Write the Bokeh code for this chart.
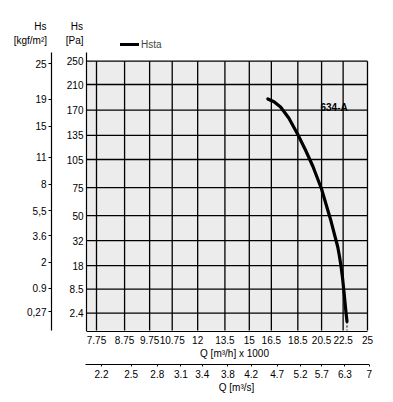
import numpy as np
from bokeh.plotting import figure
from bokeh.models import (Range1d, LinearAxis, LogAxis, LogScale, FixedTicker,
                          Label, Legend, LegendItem)
from bokeh.embed import file_html
from bokeh.resources import INLINE

# ---------------- data ----------------
q_ticks = [7.75, 8.75, 9.75, 10.75, 12, 13.5, 15, 16.5, 18.5, 20.5, 22.5, 25]
q_labels = ["7.75", "8.75", "9.75", "10.75", "12", "13.5", "15", "16.5",
            "18.5", "20.5", "22.5", "25"]
qs_ticks = [2.2, 2.5, 2.8, 3.1, 3.4, 3.8, 4.2, 4.7, 5.2, 5.7, 6.3, 7]
qs_labels = ["2.2", "2.5", "2.8", "3.1", "3.4", "3.8", "4.2", "4.7", "5.2",
             "5.7", "6.3", "7"]
pa_ticks = [2.4, 8.5, 18, 32, 50, 75, 105, 135, 170, 210, 250]
pa_labels = ["2.4", "8.5", "18", "32", "50", "75", "105", "135", "170", "210", "250"]
kgf_ticks = [0.27, 0.9, 2, 3.6, 5.5, 8, 11, 15, 19, 25]
kgf_labels = ["0,27", "0.9", "2", "3.6", "5,5", "8", "11", "15", "19", "25"]

curve_q = [16.25, 16.69, 17.17, 17.79, 18.5, 19.12, 19.75, 20.49, 21.31,
           21.99, 22.15, 22.30, 22.44, 22.59, 22.76, 22.88]
curve_pa = [187, 182.6, 174.8, 158.7, 136, 116.3, 97.1, 73.8, 47,
            27.9, 22.6, 17.6, 12.7, 7.4, 2.9, 1.16]
series_name = "Hsta"
curve_name = "634-A"

PA_PER_KGF = 9.80665
M3H_PER_M3S = 3.6  # (m3/h x 1000) per m3/s

FONT = "Liberation Sans"
FS = "10px"

W, H = 390, 398

# y axis is a square-root scale of pressure
def ys(v):
    return [float(np.sqrt(x)) for x in v]

# layout helpers: canvas pixel -> data coordinate (log x, sqrt y)
KX = (367 - 96) / np.log(q_ticks[-1] / q_ticks[0])
KY = (312.7 - 60.7) / (np.sqrt(pa_ticks[-1]) - np.sqrt(pa_ticks[0]))

def X(px):
    return float(q_ticks[0] * np.exp((px - 96) / KX))

def Y(py):
    return float(np.sqrt(pa_ticks[-1]) - (py - 60.7) / KY)

p = figure(width=W, height=H, x_axis_type="log", title=None,
           x_range=Range1d(X(0), X(W)), y_range=Range1d(Y(H), Y(0)),
           output_backend="svg", toolbar_location=None,
           min_border_left=0, min_border_right=0,
           min_border_top=0, min_border_bottom=0)
p.outline_line_color = None
p.background_fill_color = "white"
p.border_fill_color = "white"
p.xgrid.visible = False
p.ygrid.visible = False

top = ys([pa_ticks[-1]])[0]
right = q_ticks[-1]
left = X(86)
bottom = Y(330)

# grey plot area
p.quad(left=[left], right=[right], bottom=[bottom], top=[top],
       fill_color="#ebeceb", line_color=None)

# grid
p.segment(x0=q_ticks, y0=[bottom] * len(q_ticks), x1=q_ticks, y1=[top] * len(q_ticks),
          line_color="black", line_width=1.3)
p.segment(x0=[left] * len(pa_ticks), y0=ys(pa_ticks), x1=[right] * len(pa_ticks),
          y1=ys(pa_ticks), line_color="black", line_width=1.3)

# axis lines
p.segment(x0=[left, X(51), left, X(85)], y0=[Y(330.5), Y(330), Y(331), Y(364)],
          x1=[left, X(51), right, X(368.5)], y1=[Y(52), Y(52), Y(331), Y(364)],
          line_color="black", line_width=1.2)

# curve
r = p.line(curve_q, ys(curve_pa), line_color="black", line_width=3.2,
           line_cap="round", line_join="round")
p.segment(x0=[curve_q[-1]], y0=[ys([curve_pa[-1]])[0]], x1=[curve_q[-1]], y1=[bottom],
          line_color="black", line_width=1, line_dash="2 2")

def style_axis(ax):
    ax.major_label_text_font = FONT
    ax.major_label_text_font_size = FS
    ax.major_label_text_color = "black"
    ax.axis_line_color = None
    ax.major_tick_line_color = "black"
    ax.major_tick_line_width = 1
    ax.minor_tick_line_color = None
    ax.minor_tick_in = 0
    ax.minor_tick_out = 0
    ax.major_tick_in = 0

# primary x axis : Q [m3/h] x 1000
xa = p.xaxis[0]
style_axis(xa)
xa.fixed_location = Y(331)
xa.ticker = FixedTicker(ticks=q_ticks)
xa.major_label_overrides = {float(t): l for t, l in zip(q_ticks, q_labels)}
xa.major_tick_out = 0
xa.major_label_standoff = 4

# secondary x axis : Q [m3/s]
p.extra_x_ranges = {"qs": Range1d(X(0) / M3H_PER_M3S, X(W) / M3H_PER_M3S)}
p.extra_x_scales = {"qs": LogScale()}
qa = LogAxis(x_range_name="qs")
style_axis(qa)
qa.fixed_location = Y(364)
qa.ticker = FixedTicker(ticks=qs_ticks)
qa.major_label_overrides = {float(t): l for t, l in zip(qs_ticks, qs_labels)}
qa.major_tick_out = 2
qa.major_label_standoff = 3
p.add_layout(qa, "below")

# primary y axis : Hs [Pa]
ya = p.yaxis[0]
style_axis(ya)
ya.fixed_location = left
ya.ticker = FixedTicker(ticks=ys(pa_ticks))
ya.major_label_overrides = {t: l for t, l in zip(ys(pa_ticks), pa_labels)}
ya.major_tick_out = 0
ya.major_label_standoff = 3

# secondary y axis : Hs [kgf/m2]
p.extra_y_ranges = {"kgf": Range1d(Y(H), Y(0))}
kgf_pos = ys([k * PA_PER_KGF for k in kgf_ticks])
ka = LinearAxis(y_range_name="kgf")
style_axis(ka)
ka.fixed_location = X(51)
ka.ticker = FixedTicker(ticks=kgf_pos)
ka.major_label_overrides = {t: l for t, l in zip(kgf_pos, kgf_labels)}
ka.major_tick_out = 3
ka.major_label_standoff = 2
p.add_layout(ka, "left")

# axis titles
def lab(text, px, py, align, size=FS, style="normal"):
    p.add_layout(Label(x=X(px), y=Y(py), text=text,
                       text_align=align, text_baseline="middle",
                       text_font=FONT, text_font_size=size,
                       text_font_style=style, text_color="black"))

lab("Hs", 46, 26, "right")
lab("[kgf/m²]", 46.5, 40, "right")
lab("Hs", 82.5, 26, "right")
lab("[Pa]", 83, 40, "right")
lab("Q [m³/h] x 1000", 234, 352.5, "center")
lab("Q [m³/s]", 236, 387, "center")

# curve label
lab(curve_name, 320, 107, "left", size="10px", style="bold")

legend = Legend(items=[LegendItem(label=series_name, renderers=[r])],
                location=(120, H - 50), padding=0, margin=0, spacing=0,
                glyph_width=19, glyph_height=12, label_height=12, label_standoff=2,
                label_text_font=FONT, label_text_font_size=FS,
                border_line_color=None, background_fill_alpha=0)
p.add_layout(legend)

open("out.html", "w").write(file_html(p, INLINE))
